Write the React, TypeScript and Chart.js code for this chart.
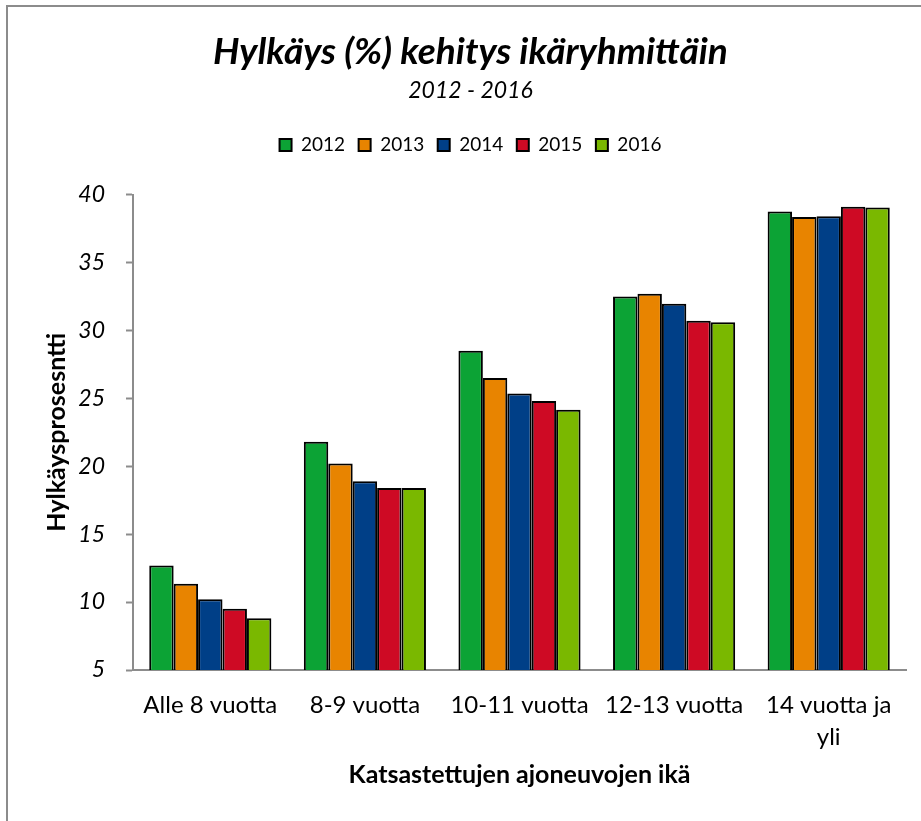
import React, { useEffect, useRef } from "react";
import { Chart, registerables } from "chart.js";

Chart.register(...registerables);

const categories: (string | string[])[] = [
  "Alle 8 vuotta",
  "8-9 vuotta",
  "10-11 vuotta",
  "12-13 vuotta",
  ["14 vuotta ja", "yli"],
];
const years = ["2012", "2013", "2014", "2015", "2016"];
const values2012 = [12.7, 21.8, 28.5, 32.5, 38.75];
const values2013 = [11.35, 20.2, 26.5, 32.7, 38.35];
const values2014 = [10.2, 18.9, 25.35, 31.95, 38.4];
const values2015 = [9.5, 18.4, 24.8, 30.7, 39.1];
const values2016 = [8.8, 18.4, 24.15, 30.6, 39.05];
const yTicks = [5, 10, 15, 20, 25, 30, 35, 40];
const colors = ["#0CA335", "#E88400", "#003F87", "#CE0A24", "#7AB800"];

const FONT = "Lato, 'Open Sans', sans-serif";

const legendGap = {
  id: "legendGap",
  beforeLayout(chart: any) {
    const lg = chart.legend;
    if (lg && !lg._gapPatched) {
      const orig = lg.fit.bind(lg);
      lg.fit = function () {
        orig();
        this.height += 30;
      };
      lg._gapPatched = true;
    }
  },
};

export default function App() {
  const ref = useRef<HTMLCanvasElement | null>(null);
  useEffect(() => {
    if (!ref.current) return;
    const series = [values2012, values2013, values2014, values2015, values2016];
    const chart = new Chart(ref.current, {
      type: "bar",
      data: {
        labels: categories,
        datasets: series.map((v, i) => ({
          label: years[i],
          data: v,
          backgroundColor: colors[i],
          borderColor: "#000000",
          borderWidth: 2,
          borderSkipped: "bottom",
          categoryPercentage: 0.79,
          barPercentage: 1,
        })),
      },
      plugins: [legendGap],
      options: {
        animation: false,
        responsive: false,
        maintainAspectRatio: false,
        layout: { padding: { left: 35, right: 15, top: 0, bottom: 31 } },
        plugins: {
          title: {
            display: true,
            text: "Hylkäys (%) kehitys ikäryhmittäin",
            color: "#000",
            font: { family: FONT, size: 37, style: "italic", weight: "bold" },
            padding: { top: 30, bottom: 2 },
          },
          subtitle: {
            display: true,
            text: "2012 - 2016",
            color: "#000",
            font: { family: FONT, size: 23, style: "italic" },
            padding: { top: 0, bottom: 18 },
          },
          legend: {
            display: true,
            position: "top",
            labels: {
              color: "#000",
              boxWidth: 12,
              boxHeight: 12,
              padding: 13.5,
              font: { family: FONT, size: 19 },
            },
          },
          tooltip: { enabled: false },
        },
        scales: {
          x: {
            afterFit: (axis: any) => {
              axis.height = 120;
            },
            grid: { display: false },
            border: { display: true, color: "#8c8c8c", width: 2 },
            ticks: {
              color: "#000",
              padding: 11,
              maxRotation: 0,
              autoSkip: false,
              font: { family: FONT, size: 24, lineHeight: 1.35 },
            },
            title: {
              display: true,
              text: "Katsastettujen ajoneuvojen ikä",
              color: "#000",
              font: { family: FONT, size: 25, weight: "bold" },
              padding: { top: 1, bottom: 0 },
            },
          },
          y: {
            min: 5,
            max: 40,
            afterBuildTicks: (axis: any) => {
              axis.ticks = yTicks.map((v) => ({ value: v }));
            },
            afterFit: (axis: any) => {
              axis.width = 98;
            },
            grid: {
              display: true,
              drawOnChartArea: false,
              drawTicks: true,
              tickLength: 7,
              tickWidth: 2,
              tickColor: "#8c8c8c",
            },
            border: { display: true, color: "#8c8c8c", width: 2 },
            ticks: {
              color: "#000",
              padding: 21,
              font: { family: FONT, size: 23, style: "italic" },
            },
            title: {
              display: true,
              text: "Hylkäysprosesntti",
              color: "#000",
              font: { family: FONT, size: 25, weight: "bold" },
              padding: { top: 7, bottom: 0 },
            },
          },
        },
      },
    });
    return () => chart.destroy();
  }, []);

  return (
    <div
      style={{
        position: "absolute",
        left: 0,
        top: 0,
        width: 921,
        height: 821,
        overflow: "hidden",
        background: "#fff",
      }}
    >
      <div
        style={{
          position: "absolute",
          left: 6,
          top: 5,
          width: 1000,
          height: 1000,
          border: "2px solid #8c8c8c",
        }}
      />
      <canvas
        ref={ref}
        width={921}
        height={821}
        style={{ position: "absolute", left: 0, top: 0 }}
      />
    </div>
  );
}
